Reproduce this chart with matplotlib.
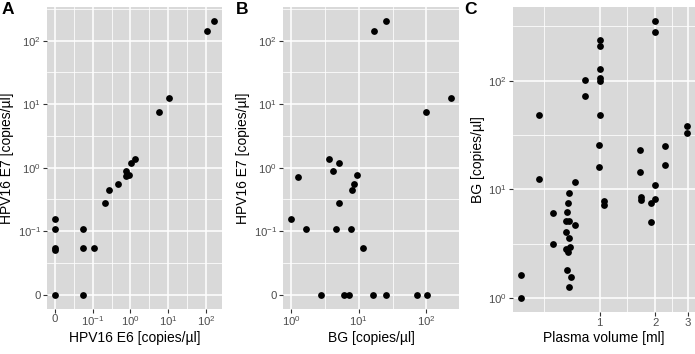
import numpy as np
import matplotlib
matplotlib.use('Agg')
import matplotlib.pyplot as plt
from matplotlib.ticker import NullFormatter

plt.rcParams['font.family'] = ['Liberation Sans', 'DejaVu Sans']
plt.rcParams['mathtext.fontset'] = 'custom'
plt.rcParams['mathtext.rm'] = 'Liberation Sans'
plt.rcParams['mathtext.it'] = 'Liberation Sans:italic'
plt.rcParams['mathtext.bf'] = 'Liberation Sans:bold'
plt.rcParams['mathtext.sf'] = 'Liberation Sans'
plt.rcParams['mathtext.default'] = 'regular'

# panel A: E6 vs E7 (copies/ul)
a_e6 = [163, 108, 10.7, 5.7, 1.29, 1.01, 0.76, 0.745, 0.91, 0.476, 0.264, 0.215,
        0, 0, 0, 0, 0.053, 0.053, 0.106, 0, 0.053]
a_e7 = [204, 143.6, 12.7, 7.46, 1.36, 1.20, 0.88, 0.73, 0.78, 0.55, 0.44, 0.277,
        0.158, 0.106, 0.053, 0.049, 0.106, 0.053, 0.053, 0, 0]

# panel B: BG vs E7
b_bg = [16.7, 25.2, 230, 100, 3.58, 5.16, 4.11, 9.34, 1.26, 8.43, 8.05, 5.1,
        1.0, 1.65, 4.66, 7.69, 11.5, 2.76, 5.99, 7.27, 16.0, 25.2, 71.8, 102]
b_e7 = [143.6, 204, 12.7, 7.46, 1.36, 1.20, 0.88, 0.78, 0.71, 0.55, 0.44, 0.277,
        0.158, 0.106, 0.106, 0.106, 0.053, 0, 0, 0, 0, 0, 0, 0]

# panel C: plasma volume vs BG
c_vol = [2.0, 2.0, 1.0, 1.0, 1.0, 1.0, 1.0, 0.836, 0.836, 0.469, 1.0, 0.469,
         0.992, 0.992, 1.644, 1.644, 2.25, 2.25, 2.96, 2.96, 2.0, 2.0, 1.90, 1.90,
         1.68, 1.68, 1.06, 1.06, 0.734, 0.684, 0.676, 0.666, 0.659, 0.686, 0.734,
         0.659, 0.681, 0.557, 0.557, 0.692, 0.653, 0.67, 0.667, 0.695, 0.678,
         0.376, 0.376]
c_bg = [353, 278, 238, 210, 128, 105, 99, 102, 71.8, 48, 48, 12.5,
        25.6, 16.1, 23.2, 14.5, 25.1, 16.7, 38.3, 32.8, 10.9, 8.1, 7.46, 5.06,
        8.47, 8.0, 7.78, 7.26, 11.6, 9.29, 7.5, 6.17, 5.17, 5.1, 4.69,
        4.07, 3.58, 6.04, 3.18, 2.96, 2.82, 2.63, 1.82, 1.57, 1.26,
        1.64, 1.0]

pl_breaks = [0, 0.1, 1, 10, 100]
pl_labels = ['0', '$10^{-1}$', '$10^{0}$', '$10^{1}$', '$10^{2}$']
log_breaks = [1, 10, 100]
log_labels = ['$10^{0}$', '$10^{1}$', '$10^{2}$']
vol_breaks = [1, 2, 3]
vol_labels = ['1', '2', '3']


# pseudo log, sigma = 0.01
def pl_fwd(v):
    return np.arcsinh(np.asarray(v, dtype=float) / 0.02) / np.log(10)


def pl_inv(t):
    return 0.02 * np.sinh(np.asarray(t, dtype=float) * np.log(10))


def log_fwd(v):
    return np.log10(np.asarray(v, dtype=float))


def log_inv(t):
    return 10 ** np.asarray(t, dtype=float)


def limits(vals, f, finv):
    t = f(vals)
    lo, hi = t.min(), t.max()
    d = hi - lo
    return finv(lo - 0.05 * d), finv(hi + 0.05 * d)


def minors(breaks, f, finv):
    b = f(breaks)
    b = np.concatenate([[2 * b[0] - b[1]], b, [2 * b[-1] - b[-2]]])
    return finv((b[:-1] + b[1:]) / 2)


def style(ax):
    ax.set_facecolor('#D9D9D9')
    for s in ax.spines.values():
        s.set_visible(False)
    ax.set_axisbelow(True)
    ax.grid(which='major', color='white', lw=1.1)
    ax.grid(which='minor', color='white', lw=0.55)
    ax.tick_params(which='major', length=2.75, width=0.8, color='#333333',
                   labelcolor='#4D4D4D', labelsize=8.2, pad=1.5)
    ax.tick_params(which='minor', length=0)
    ax.xaxis.set_minor_formatter(NullFormatter())
    ax.yaxis.set_minor_formatter(NullFormatter())


def set_axis(ax, which, vals, f, finv, breaks, labels, minor=None):
    lo, hi = limits(vals, f, finv)
    if minor is None:
        minor = minors(breaks, f, finv)
    if which == 'x':
        ax.set_xticks(breaks)
        ax.set_xticklabels(labels)
        ax.set_xticks(minor, minor=True)
        ax.set_xlim(lo, hi)
    else:
        ax.set_yticks(breaks)
        ax.set_yticklabels(labels)
        ax.set_yticks(minor, minor=True)
        ax.set_ylim(lo, hi)


W, H = 695, 354
fig = plt.figure(figsize=(W / 100, H / 100), dpi=100)


def px_axes(l, r, t, b):
    return fig.add_axes([l / W, (H - b) / H, (r - l) / W, (b - t) / H])


axA = px_axes(47, 222, 7.3, 308.5)
axB = px_axes(283, 459, 7.3, 308.5)
axC = px_axes(513, 695, 7.3, 312)

# A
axA.set_xscale('function', functions=(pl_fwd, pl_inv))
axA.set_yscale('function', functions=(pl_fwd, pl_inv))
style(axA)
axA.scatter(a_e6, a_e7, s=24, color='black', linewidths=0, zorder=3)
set_axis(axA, 'x', a_e6, pl_fwd, pl_inv, pl_breaks, pl_labels)
set_axis(axA, 'y', a_e7, pl_fwd, pl_inv, pl_breaks, pl_labels)
axA.set_xlabel('HPV16 E6 [copies/µl]', fontsize=10, labelpad=2)
axA.set_ylabel('HPV16 E7 [copies/µl]', fontsize=10, labelpad=2.5)

# B
axB.set_xscale('log')
axB.set_yscale('function', functions=(pl_fwd, pl_inv))
style(axB)
axB.scatter(b_bg, b_e7, s=24, color='black', linewidths=0, zorder=3)
set_axis(axB, 'x', b_bg, log_fwd, log_inv, log_breaks, log_labels)
set_axis(axB, 'y', a_e7, pl_fwd, pl_inv, pl_breaks, pl_labels)
axB.set_xlabel('BG [copies/µl]', fontsize=10, labelpad=2)
axB.set_ylabel('HPV16 E7 [copies/µl]', fontsize=10, labelpad=2.5)

# C
axC.set_xscale('log')
axC.set_yscale('log')
style(axC)
axC.scatter(c_vol, c_bg, s=24, color='black', linewidths=0, zorder=3)
set_axis(axC, 'x', c_vol, log_fwd, log_inv, vol_breaks, vol_labels,
         minor=[0.5, np.sqrt(2), np.sqrt(6)])
set_axis(axC, 'y', c_bg, log_fwd, log_inv, log_breaks, log_labels)
axC.set_xlabel('Plasma volume [ml]', fontsize=10, labelpad=2)
axC.set_ylabel('BG [copies/µl]', fontsize=10, labelpad=2.5)

for lab, x in [('A', 1.5), ('B', 235.5), ('C', 464.5)]:
    fig.text(x / W, 1 - 1.5 / H, lab, fontsize=12.5, fontweight='bold',
             ha='left', va='top')

fig.savefig('out.png', dpi=100)
